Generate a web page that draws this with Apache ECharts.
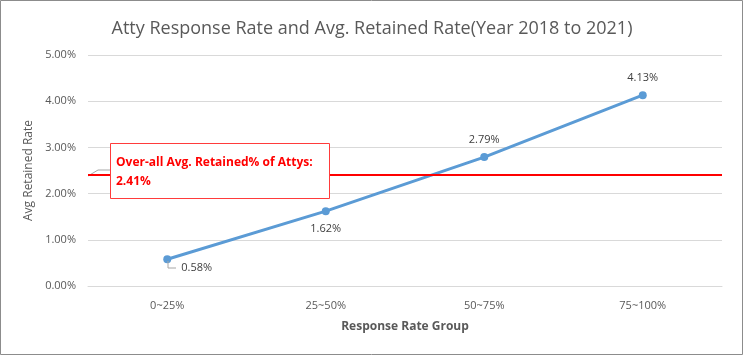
<!DOCTYPE html>
<html><head><meta charset="utf-8">
<script src="https://cdn.jsdelivr.net/npm/echarts@6/dist/echarts.min.js"></script>
<style>html,body{margin:0;padding:0;background:#fff}#c{width:744px;height:356px}</style>
</head><body><div id="c"></div>
<script>
const categories = ['0~25%', '25~50%', '50~75%', '75~100%'];
const retainedRate = [0.58, 1.62, 2.79, 4.13];
const overallAvg = 2.41;
const yTicks = [0, 1, 2, 3, 4, 5];
const labelPositions = ['right', 'bottom', 'top', 'top'];

const FONT = '"Open Sans", sans-serif';
const chart = echarts.init(document.getElementById('c'));
chart.setOption({
  animation: false,
  backgroundColor: '#fff',
  title: {
    text: 'Atty Response Rate and Avg. Retained Rate(Year 2018 to 2021)',
    left: 'center', top: 15,
    textStyle: { fontFamily: FONT, fontSize: 18, fontWeight: 'normal', color: '#595959' }
  },
  grid: { left: 88, right: 22, top: 55, bottom: 70 },
  xAxis: {
    type: 'category', data: categories, boundaryGap: true,
    name: 'Response Rate Group', nameLocation: 'middle', nameGap: 35,
    nameTextStyle: { fontFamily: FONT, fontSize: 12, fontWeight: 'bold', color: '#595959' },
    axisLine: { show: true, lineStyle: { color: '#d9d9d9' } },
    axisTick: { show: false },
    axisLabel: { fontFamily: FONT, fontSize: 11, color: '#595959', margin: 14 }
  },
  yAxis: {
    type: 'value', min: yTicks[0], max: yTicks[yTicks.length - 1], interval: 1,
    name: 'Avg Retained Rate', nameLocation: 'middle', nameGap: 47,
    nameTextStyle: { fontFamily: FONT, fontSize: 12, color: '#595959' },
    axisLine: { show: false }, axisTick: { show: false },
    axisLabel: { fontFamily: FONT, fontSize: 11, color: '#595959', margin: 12,
      formatter: v => v.toFixed(2) + '%' },
    splitLine: { lineStyle: { color: '#d9d9d9' } }
  },
  series: [{
    type: 'line',
    data: retainedRate.map((v, i) => ({
      value: v,
      label: { position: labelPositions[i], offset: i === 0 ? [2, 9] : [0, 0] }
    })),
    symbol: 'circle', symbolSize: 8,
    lineStyle: { color: '#5b9bd5', width: 3 },
    itemStyle: { color: '#5b9bd5' },
    label: { show: true, fontFamily: FONT, fontSize: 11, color: '#404040', distance: 8,
      formatter: p => p.value.toFixed(2) + '%' },
    markLine: {
      silent: true, symbol: 'none',
      lineStyle: { color: '#ff0000', width: 2, type: 'solid' },
      label: { show: false },
      data: [{ yAxis: overallAvg }]
    },
    z: 3
  }],
  graphic: [
    { type: 'rect', shape: { x: 0.5, y: 0.5, width: 742, height: 354 },
      style: { fill: 'none', stroke: '#8c8c8c', lineWidth: 1 }, z: 0 },
    { type: 'polyline', shape: { points: [[88, 176], [98, 170], [110, 170]] },
      style: { stroke: '#a6a6a6', lineWidth: 1, fill: 'none' }, z: 5 },
    { type: 'polyline', shape: { points: [[168, 261], [168, 268], [176, 268]] },
      style: { stroke: '#a6a6a6', lineWidth: 1, fill: 'none' }, z: 5 },
    { type: 'rect', shape: { x: 110.5, y: 143.5, width: 219, height: 55 },
      style: { fill: '#fff', stroke: '#ff3b3b', lineWidth: 1 }, z: 10 },
    { type: 'text', left: 116, top: 153, z: 11,
      style: { text: 'Over-all Avg. Retained% of Attys:\n' + overallAvg.toFixed(2) + '%',
        fontFamily: FONT, fontSize: 12, fontWeight: 'bold', fill: '#ff0000', lineHeight: 19 } }
  ]
});
</script></body></html>
